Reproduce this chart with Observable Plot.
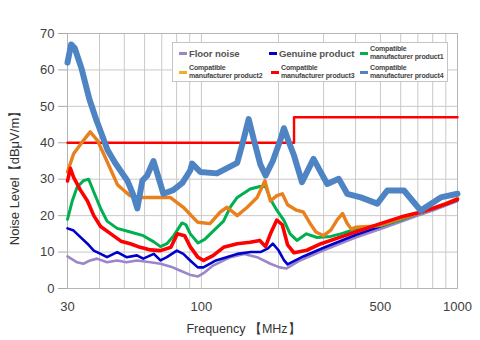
<!DOCTYPE html>
<html><head><meta charset="utf-8">
<script src="https://cdn.jsdelivr.net/npm/d3@7"></script>
<script src="https://cdn.jsdelivr.net/npm/@observablehq/plot@0.6"></script>
<style>
body{margin:0;background:#fff;font-family:"Liberation Sans",Arial,sans-serif}
#wrap{position:relative;width:480px;height:340px}
#legend{position:absolute;left:172px;top:42px;width:276px;height:40px;background:#fff;border:1px solid #c4c4c4;box-sizing:border-box}
.item{position:absolute;display:flex;align-items:center;height:18px}
.sw{width:8px;height:3px;margin-right:2px;flex:none}
.big{font-size:9.6px;font-weight:bold;color:#555;letter-spacing:-0.1px;white-space:nowrap}
.small{font-size:7px;line-height:8px;color:#444;font-weight:bold;letter-spacing:-0.15px;white-space:nowrap}
</style></head>
<body><div id="wrap"></div>
<script>
// ---- data ----
const freqTicks = [30, 100, 500, 1000];
const gridFreqs = [30,40,50,60,70,80,90,100,200,300,400,500,600,700,800,900,1000];
const levelTicks = [0,10,20,30,40,50,60,70];

const limitF = [30, 230, 230, 1000];
const limitV = [40, 40, 47, 47];

const floorF = [30,32.7,34.6,36.8,39.1,42.8,46.9,51,56,63.3,69.2,76,82,90,97,102,111,130,147,165,186,202,215,240,300,400,500,600,700,800,900,1000];
const floorV = [8.8,7.2,6.8,7.7,8.2,7.2,7.7,7.2,7.7,7.2,6.8,6,5,3.8,3.3,4.2,6.3,8.6,9.5,8.6,6.8,5.8,5.5,7.5,10.5,14,16.3,18.3,20,21.4,22.8,24];

const genuineF = [30,31.7,33.7,35.9,38,40.4,42.8,46.9,51,56,59.3,65.2,69.2,73.3,80.2,85,90.4,96.8,101.8,114,138,156,170,182,190,200,210,217,250,300,400,500,600,700,800,900,1000];
const genuineV = [16.5,15.9,14.1,12.3,10.4,9.5,8.6,10,8.6,9.1,8.2,9.5,7.7,8.6,10.4,9.5,7.7,5.8,5.8,7.7,9.5,10,10,11,12.3,10.5,7.8,6.6,8.8,11.2,14.7,17,19,20.5,21.8,23.1,24.3];

const cmp1F = [30,31.3,32.7,34.6,36.3,38,40.4,42.8,46.9,52.8,59.3,65.2,69.2,73.3,78,84,87,90.5,97,103,114,122,130,138,155,169,178,186,197,210,222,236,257,283,320,350,400,450,500,600,700,800,900,1000];
const cmp1V = [19,24,27.8,29.6,30,26.5,22,18.5,16.5,15.5,14.5,12.8,11.5,12.3,14.5,18,17.5,15,12.5,13.5,16.5,18.5,22.5,25,27.3,28,28,24.5,21.5,18.7,15,13.2,15,14,14.3,15,16.3,16.8,17.2,18.8,20.6,22,23.2,24.5];

const cmp2F = [30,31.7,34.6,36.8,39.3,41.5,44,47,52.6,57,63,70,75.5,85,96.6,108,118.5,126,138,151,165,177,186,197,207,217,235,250,265,280,300,320,340,356,370,385,400,450,500,600,700,800,900,1000];
const cmp2V = [32,37,40.6,43,40.6,37,33,28.5,25.5,25,25,25,25,22.3,18.2,17.8,21,22.3,20,22.3,25,29.6,24,25.5,26,23,21.5,21,18,15.5,14.5,16,19,20.6,18,16.3,16.8,17,17.4,19.2,20.6,22,23.3,24.7];

const cmp3F = [30,30.8,31.7,33.7,35.9,38,40.4,44.3,48.5,52.8,57.7,63.3,69.2,76,80.5,86,90.4,96.8,102,111,122,138,155,169,178,186,197,207,217,230,258,293,349,419,500,600,694,800,900,1000];
const cmp3V = [29.5,33,30.5,27,24,20,17,15,13,12.3,11.3,10.6,10.4,11.3,15,14.5,11.5,8.6,7.7,9,11.3,12.3,12.7,13.2,11.5,15,18.8,17.5,12,9.8,10.5,12.3,14.1,16,17.8,19.6,20.7,22,23.2,24.5];

const cmp4F = [30,31,32,34,36.5,39,40,43,46,51.4,54,56.2,58.8,61.4,65,69,71,77.6,84.3,90.4,92,99,115,138,145,153,160,170,178,190,203,210,220,230,247,274,310,344,371,419,486,532,618,718,860,1000];
const cmp4V = [62,67,66,60.5,52,46,44,38,34.5,29.6,26,22,29.6,31,35,29,26,27,29,32.4,34.3,32,31.6,34.5,40,46.5,41,34,31,35,40.6,44,40,36.5,29.2,35.6,28.7,30.1,26,25,23.3,26.9,26.9,21.4,25,26];

const seriesNames = ["Floor noise","Genuine product","Compatible manufacturer product1","Compatible manufacturer product2","Compatible manufacturer product3","Compatible manufacturer product4"];
const seriesColors = ["#9b86c9","#0000cc","#00b050","#e8801e","#ff0000","#4f84c4"];
const swatchColors = ["#9b86c9","#0000cc","#00b050","#f0b020","#ff0000","#4f84c4"];
const seriesWidths = [2.6,2.6,3,3.4,3.6,6];

// ---- build tables ----
const seriesData = [[floorF,floorV],[genuineF,genuineV],[cmp1F,cmp1V],[cmp2F,cmp2V],[cmp3F,cmp3V],[cmp4F,cmp4V]]
  .map(([f,v],i) => f.map((x,j) => ({f:x, v:v[j], s:seriesNames[i]})));
const limitData = limitF.map((x,j) => ({f:x, v:limitV[j]}));

const marks = [
  Plot.gridX({ticks:gridFreqs, stroke:"#c9c9c9", strokeOpacity:1}),
  Plot.gridY({ticks:levelTicks, stroke:"#c9c9c9", strokeOpacity:1}),
  Plot.frame({stroke:"#b5b5b5"}),
  Plot.axisY({ticks:levelTicks, tickSize:9, tickPadding:4, stroke:"#a8a8a8", fill:"#404040", fontSize:13, label:null}),
  Plot.axisX({ticks:freqTicks, tickSize:0, tickPadding:13, fill:"#404040", fontSize:13, label:null, tickFormat:d=>String(d)}),
  Plot.line(limitData, {x:"f", y:"v", stroke:"#ff0000", strokeWidth:2.4, curve:"linear"})
];
seriesData.forEach((d,i) => {
  marks.push(Plot.line(d, {x:"f", y:"v", stroke:seriesColors[i], strokeWidth:seriesWidths[i], strokeLinejoin:"round", curve:"linear"}));
});
marks.push(Plot.text(["Frequency 【MHz】"], {frameAnchor:"bottom", text:d=>d, dx:-19, dy:40, textAnchor:"middle", lineAnchor:"middle", fontSize:12.5, fill:"#333"}));
marks.push(Plot.text(["Noise Level【dBμV/m】"], {frameAnchor:"left", text:d=>d, rotate:-90, dx:-53, dy:14, textAnchor:"middle", lineAnchor:"middle", fontSize:13, fill:"#333"}));

const chart = Plot.plot({
  width:480, height:340,
  marginLeft:67, marginRight:23, marginTop:33, marginBottom:52,
  style:{fontFamily:"'Liberation Sans', Arial, sans-serif", background:"#fff"},
  x:{type:"log", domain:[30,1000]},
  y:{domain:[0,70]},
  marks
});
const wrap = document.getElementById("wrap");
wrap.appendChild(chart);

// ---- legend ----
const legend = document.createElement("div");
legend.id = "legend";
const pos = [[6,1],[96,1],[187,1],[6,20],[98,20],[187,20]];
seriesNames.forEach((name,i) => {
  const it = document.createElement("div");
  it.className = "item";
  it.style.left = pos[i][0]+"px";
  it.style.top = pos[i][1]+"px";
  const sw = document.createElement("div");
  sw.className = "sw"; sw.style.background = swatchColors[i];
  const tx = document.createElement("div");
  if (name.startsWith("Compatible")) {
    tx.className = "small";
    tx.innerHTML = "Compatible<br>" + name.replace("Compatible ","");
  } else {
    tx.className = "big"; tx.textContent = name;
  }
  it.appendChild(sw); it.appendChild(tx);
  legend.appendChild(it);
});
wrap.appendChild(legend);
</script></body></html>
